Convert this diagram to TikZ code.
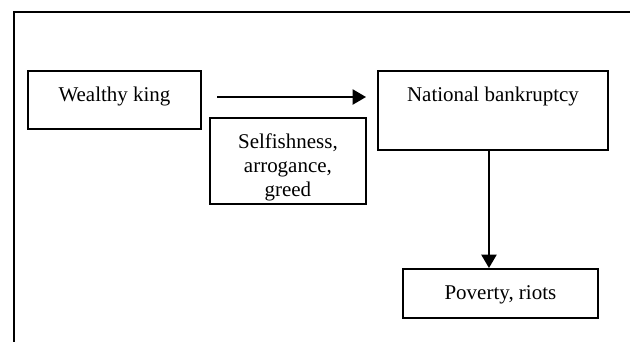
\documentclass[tikz,border=0pt]{standalone}
\usepackage{fontspec}
\setmainfont{Liberation Serif}
\usetikzlibrary{arrows.meta}

\newcommand{\boxtext}[3]{%
	\begin{minipage}[t][#2][t]{#1}
		\centering\fontsize{12}{13.8}\selectfont
		\vspace*{7.7pt}\strut #3
	\end{minipage}}

\begin{document}
\begin{tikzpicture}[x=0.572pt,y=-0.572pt,
		box/.style={draw,line width=1.1pt,inner sep=0pt,anchor=north west},
		arr/.style={line width=1.1pt,-{Triangle[length=7.6pt,width=8.6pt]}}]
	\useasboundingbox (0,0) rectangle (630,341);
	\draw[line width=1.1pt] (14,350) -- (14,12) -- (640,12);
	\node[box] (king) at (27,70) {\boxtext{99pt}{33.2pt}{Wealthy king}};
	\node[box] (nat) at (377,70) {\boxtext{131.6pt}{45.2pt}{National bankruptcy}};
	\node[box] (why) at (209,117) {\boxtext{89.2pt}{49.2pt}{Selfishness,\\ arrogance,\\ greed}};
	\node[box] (pov) at (402,268) {\boxtext{111.5pt}{28pt}{Poverty, riots}};
	\coordinate (arrL) at (217,97);
	\coordinate (arrR) at (366,97);
	\draw[arr] (arrL) -- (arrR);
	\coordinate (down) at ([xshift=-2.3pt]nat.south);
	\draw[arr] (down) -- (down |- pov.north);
\end{tikzpicture}
\end{document}
